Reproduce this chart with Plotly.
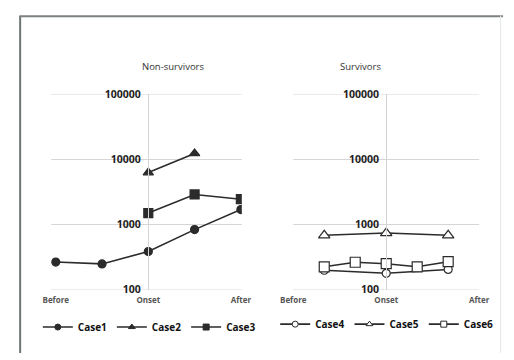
import plotly.graph_objects as go

# Sampling stages (positions on each panel's category axis)
stage_labels = ["Before", "Onset", "After"]
left_tick_pos = [0, 2, 4]
right_tick_pos = [0, 3, 6]

# Non-survivors
case1_x = [0, 1, 2, 3, 4]
case1_y = [265, 248, 385, 835, 1700]
case2_x = [2, 3]
case2_y = [6300, 12400]
case3_x = [2, 3, 4]
case3_y = [1500, 2900, 2450]

# Survivors
case4_x = [1, 3, 5]
case4_y = [198, 178, 204]
case5_x = [1, 3, 5]
case5_y = [683, 740, 683]
case6_x = [1, 2, 3, 4, 5]
case6_y = [224, 263, 250, 224, 268]

y_ticks = [100, 1000, 10000, 100000]
y_tick_text = ["100", "1000", "10000", "100000"]

W, H = 514, 360
LINE = "#2b2b2b"
GRID = "#d6d6d6"
FONT = "Open Sans"

fig = go.Figure()


def add_case(name, xs, ys, symbol, size, fill, xa, ya, legend):
    # the plotted series
    fig.add_trace(go.Scatter(
        x=xs, y=ys, name=name, mode="lines+markers",
        xaxis=xa, yaxis=ya, showlegend=False,
        line=dict(color=LINE, width=1.6),
        marker=dict(symbol=symbol, size=size, color=fill,
                    line=dict(color=LINE, width=1.2)),
    ))
    # compact legend key for the same series
    fig.add_trace(go.Scatter(
        x=[None], y=[None], name=name, mode="lines+markers",
        xaxis=xa, yaxis=ya, legend=legend,
        line=dict(color=LINE, width=1.6),
        marker=dict(symbol=symbol, size=6, color=fill,
                    line=dict(color=LINE, width=1)),
    ))


add_case("Case1", case1_x, case1_y, "circle", 8, LINE, "x", "y", "legend")
add_case("Case2", case2_x, case2_y, "triangle-up", 9, LINE, "x", "y", "legend")
add_case("Case3", case3_x, case3_y, "square", 9, LINE, "x", "y", "legend")
add_case("Case4", case4_x, case4_y, "circle", 8, "white", "x2", "y2", "legend2")
add_case("Case5", case5_x, case5_y, "triangle-up", 10, "white", "x2", "y2", "legend2")
add_case("Case6", case6_x, case6_y, "square", 10, "white", "x2", "y2", "legend2")

y_dom = [1 - 294 / H, 1 - 91 / H]

yaxis_common = dict(
    type="log", range=[2, 5], domain=y_dom, anchor="free",
    tickvals=y_ticks, ticktext=y_tick_text,
    showgrid=False,
    showline=True, linecolor="#d4d4d4", linewidth=1,
    ticks="", ticklabelstandoff=5, zeroline=False,
    tickfont=dict(family=FONT, size=10.5, color="#1e1e1e", weight="bold"),
)

xaxis_common = dict(
    showgrid=False, zeroline=False, showline=False, ticks="",
    tickfont=dict(family=FONT, size=8, color="#555", weight="bold"),
    ticklabelstandoff=4,
)

legend_common = dict(
    orientation="h", xanchor="center", yanchor="middle",
    font=dict(family=FONT, size=10, color="#111", weight="bold"),
    itemwidth=30, tracegroupgap=0, bgcolor="rgba(0,0,0,0)",
)

fig.update_layout(
    width=W, height=H,
    margin=dict(l=0, r=0, t=0, b=0),
    paper_bgcolor="white", plot_bgcolor="rgba(0,0,0,0)",
    font=dict(family=FONT, color="#222"),
    xaxis=dict(domain=[40 / W, 240 / W], range=[-0.1, 4.02],
               tickvals=left_tick_pos, ticktext=stage_labels,
               anchor="y", **xaxis_common),
    yaxis=dict(position=141.5 / W, **yaxis_common),
    xaxis2=dict(domain=[294 / W, 489 / W], range=[0, 6],
                tickvals=right_tick_pos, ticktext=stage_labels,
                anchor="y2", **xaxis_common),
    yaxis2=dict(position=391.5 / W, **yaxis_common),
    legend=dict(x=143 / W, y=1 - 333 / H, **legend_common),
    legend2=dict(x=392 / W, y=1 - 330 / H, **legend_common),
    showlegend=True,
)

# Horizontal gridlines at every decade, across each panel
for xa, ya in [("x", "y"), ("x2", "y2")]:
    for v in y_ticks:
        fig.add_shape(type="line", xref=f"{xa} domain", yref=ya,
                      x0=0, x1=1, y0=v, y1=v, layer="below",
                      line=dict(color=GRID, width=1))

# Panel titles
for text, xc in [("Non-survivors", 133), ("Survivors", 388)]:
    fig.add_annotation(text=text, xref="paper", yref="paper",
                       x=xc / W, y=1 - 62 / H, yanchor="middle",
                       showarrow=False,
                       font=dict(family=FONT, size=9.5, color="#333"))

# Outer frame
fig.add_shape(type="line", xref="paper", yref="paper",
              x0=7.5 / W, x1=7.5 / W, y0=0, y1=1 - 9 / H,
              line=dict(color="#6e7775", width=2))
fig.add_shape(type="line", xref="paper", yref="paper",
              x0=7 / W, x1=1, y0=1 - 9.5 / H, y1=1 - 9.5 / H,
              line=dict(color="#7c8281", width=2))
fig.add_shape(type="line", xref="paper", yref="paper",
              x0=511.5 / W, x1=511.5 / W, y0=0, y1=1 - 9 / H,
              line=dict(color="#e4e6e6", width=1))

fig.write_html("out.html")
